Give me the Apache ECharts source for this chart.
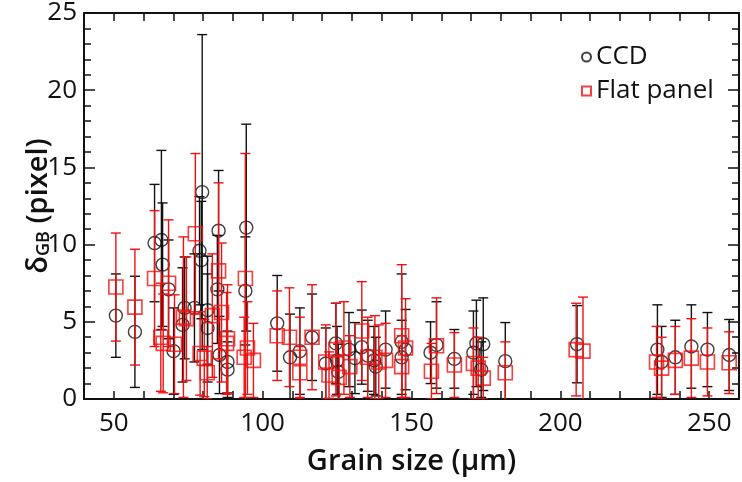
<!DOCTYPE html>
<html>
<head>
<meta charset="utf-8">
<script src="https://cdn.jsdelivr.net/npm/echarts@6/dist/echarts.min.js"></script>
<style>html,body{margin:0;padding:0;background:#fff;}#c{width:742px;height:482px;}</style>
</head>
<body>
<div id="c"></div>
<script>
// CCD data
const ccdX   = [50.7, 57.1, 63.7, 66.0, 66.4, 68.4, 70.1, 73.1, 73.8, 77.1, 78.8, 79.4, 79.7, 81.5, 81.5, 84.8, 85.2, 85.5, 88.2, 88.2, 94.5, 94.2, 104.9, 109.2, 112.5, 116.6, 121.2, 124.6, 125.0, 125.4, 129.0, 131.0, 133.3, 135.3, 137.4, 138.0, 141.3, 146.7, 148.0, 146.7, 156.4, 158.4, 164.4, 170.8, 171.8, 174.1, 173.4, 181.5, 205.6, 232.6, 234.0, 238.6, 244.0, 249.4, 256.7];
const ccdY   = [5.4, 4.35, 10.1, 10.3, 8.7, 7.1, 3.1, 4.8, 5.9, 5.9, 9.6, 9.0, 13.4, 5.75, 4.6, 7.1, 10.9, 2.85, 2.4, 1.9, 11.1, 7.0, 4.9, 2.7, 3.1, 4.0, 2.3, 3.6, 2.5, 1.75, 3.2, 2.65, 3.36, 2.8, 2.5, 2.1, 3.2, 3.7, 3.2, 2.7, 3.0, 3.5, 2.6, 3.0, 3.6, 3.55, 1.9, 2.45, 3.55, 3.2, 2.4, 2.7, 3.4, 3.2, 2.85];
const ccdErr = [2.7, 3.6, 3.8, 5.8, 4.0, 3.2, 2.8, 3.7, 3.3, 3.5, 3.5, 3.8, 10.2, 3.5, 3.5, 3.5, 3.9, 2.5, 2.0, 1.8, 6.7, 3.5, 3.1, 2.8, 2.8, 2.8, 2.3, 2.6, 2.2, 1.8, 2.4, 2.3, 2.4, 2.3, 2.2, 1.9, 2.5, 4.4, 2.6, 2.4, 2.0, 2.8, 1.9, 2.7, 2.8, 3.0, 1.8, 2.5, 2.5, 2.9, 2.3, 2.4, 2.7, 2.4, 2.3];
// Flat panel data
const flatX   = [50.7, 57.1, 63.7, 65.8, 66.6, 68.4, 70.4, 73.4, 74.4, 77.4, 79.0, 80.4, 81.4, 83.1, 85.2, 86.2, 88.2, 87.9, 93.8, 94.2, 94.9, 96.9, 104.9, 109.0, 112.5, 112.5, 116.6, 121.2, 122.3, 124.6, 125.7, 127.3, 129.3, 133.3, 135.3, 137.7, 139.0, 141.3, 146.7, 148.0, 146.7, 156.7, 158.4, 164.4, 170.8, 172.4, 174.1, 181.5, 205.3, 207.6, 232.3, 234.0, 238.6, 244.0, 249.4, 256.7];
const flatY   = [7.25, 5.95, 7.8, 4.0, 3.6, 7.5, 3.55, 5.3, 5.2, 10.7, 2.95, 2.65, 1.7, 5.4, 8.3, 5.6, 3.9, 3.6, 2.7, 7.8, 3.3, 2.5, 4.1, 4.0, 2.7, 1.7, 4.0, 2.4, 1.55, 3.2, 1.4, 3.3, 2.1, 4.4, 2.7, 2.7, 2.4, 2.5, 4.1, 3.3, 2.1, 1.8, 3.45, 2.2, 2.3, 2.0, 1.35, 1.7, 3.2, 3.1, 2.4, 2.0, 2.5, 2.65, 2.4, 2.35];
const flatErr = [3.5, 3.75, 4.4, 3.5, 3.2, 4.1, 3.2, 5.2, 4.0, 5.2, 2.7, 2.5, 1.7, 4.0, 5.7, 4.5, 3.5, 3.3, 2.6, 8.1, 3.0, 2.4, 2.9, 3.2, 2.6, 1.7, 3.4, 2.4, 1.5, 3.0, 1.4, 3.0, 2.0, 3.2, 2.6, 2.7, 2.4, 2.4, 4.6, 3.2, 2.0, 1.8, 3.1, 2.1, 2.3, 2.0, 1.35, 2.0, 3.0, 3.5, 2.3, 2.0, 2.2, 2.55, 2.2, 2.0];
// Tick labels
const xTickLabels = [50, 100, 150, 200, 250];
const yTickLabels = [0, 5, 10, 15, 20, 25];

const FONT = "'Open Sans', 'Noto Sans', sans-serif";
const BLACK = '#111';
const RED = '#f01010';

function errData(xs, ys, es) {
  return xs.map((x, i) => [x, ys[i] - es[i], ys[i] + es[i]]);
}
function ptData(xs, ys) {
  return xs.map((x, i) => [x, ys[i]]);
}
function errRender(color, capW, lw) {
  return function (params, api) {
    const x = api.value(0);
    const p1 = api.coord([x, api.value(1)]);
    const p2 = api.coord([x, api.value(2)]);
    const st = { stroke: color, lineWidth: lw };
    return {
      type: 'group',
      children: [
        { type: 'line', shape: { x1: p1[0], y1: p1[1], x2: p2[0], y2: p2[1] }, style: st },
        { type: 'line', shape: { x1: p1[0] - capW, y1: p1[1], x2: p1[0] + capW, y2: p1[1] }, style: st },
        { type: 'line', shape: { x1: p2[0] - capW, y1: p2[1], x2: p2[0] + capW, y2: p2[1] }, style: st }
      ]
    };
  };
}

const axisLineStyle = { color: BLACK, width: 2 };
const xBase = {
  type: 'value', min: 40, max: 260, interval: 10,
  splitLine: { show: false },
  axisLine: { show: true, onZero: false, lineStyle: axisLineStyle },
  axisTick: { show: true, inside: true, length: 8, lineStyle: { color: BLACK, width: 1.5 } }
};
const yBase = {
  type: 'value', min: 0, max: 25, interval: 5,
  splitLine: { show: false },
  axisLine: { show: true, onZero: false, lineStyle: axisLineStyle },
  axisTick: { show: true, inside: true, length: 11, lineStyle: { color: BLACK, width: 1.5 } },
  minorTick: { show: true, splitNumber: 5, length: 7, lineStyle: { color: BLACK, width: 1.5 } },
  minorSplitLine: { show: false }
};

const chart = echarts.init(document.getElementById('c'), null, { renderer: 'canvas' });
chart.setOption({
  animation: false,
  backgroundColor: '#fff',
  grid: { left: 84, right: -1, top: 12, bottom: 83, containLabel: false },
  legend: {
    orient: 'vertical', left: 576, top: 39, itemWidth: 9, itemHeight: 9, itemGap: 8,
    textStyle: { fontFamily: FONT, fontSize: 26, color: BLACK, padding: [0, 0, 0, 0] },
    data: ['CCD', 'Flat panel']
  },
  xAxis: [
    Object.assign({}, xBase, {
      position: 'bottom',
      name: 'Grain size (μm)', nameLocation: 'middle', nameGap: 48, nameMoveOverlap: false,
      nameTextStyle: { fontFamily: FONT, fontSize: 29, fontWeight: 600, color: BLACK },
      axisLabel: {
        show: true, margin: 12, fontFamily: FONT, fontSize: 26, color: BLACK,
        formatter: v => (xTickLabels.indexOf(v) >= 0 ? String(v) : '')
      }
    }),
    Object.assign({}, xBase, { position: 'top', axisLabel: { show: false } })
  ],
  yAxis: [
    Object.assign({}, yBase, {
      position: 'left',
      name: '{a|δ}{b|GB}{a| (pixel)}', nameLocation: 'middle', nameGap: 31, nameRotate: 90, nameMoveOverlap: false,
      nameTextStyle: {
        rich: {
          a: { fontFamily: FONT, fontSize: 29, fontWeight: 600, color: BLACK },
          b: { fontFamily: FONT, fontSize: 18, fontWeight: 600, color: BLACK, padding: [10, 0, 0, 0] }
        }
      },
      axisLabel: {
        show: true, margin: 7, fontFamily: FONT, fontSize: 26, color: BLACK,
        formatter: v => (yTickLabels.indexOf(v) >= 0 ? String(v) : '')
      }
    }),
    Object.assign({}, yBase, { position: 'right', axisLabel: { show: false } })
  ],
  series: [
    {
      name: 'CCD err', type: 'custom', xAxisIndex: 0, yAxisIndex: 0, clip: true,
      renderItem: errRender(BLACK, 5, 1.4), data: errData(ccdX, ccdY, ccdErr), z: 2
    },
    {
      name: 'CCD', type: 'scatter', xAxisIndex: 0, yAxisIndex: 0, symbol: 'circle', symbolSize: 13,
      itemStyle: { color: 'rgba(0,0,0,0)', borderColor: BLACK, borderWidth: 1.4 },
      data: ptData(ccdX, ccdY), z: 3
    },
    {
      name: 'Flat panel err', type: 'custom', xAxisIndex: 0, yAxisIndex: 0, clip: true,
      renderItem: errRender(RED, 5, 1.4), data: errData(flatX, flatY, flatErr), z: 4
    },
    {
      name: 'Flat panel', type: 'scatter', xAxisIndex: 0, yAxisIndex: 0, symbol: 'rect', symbolSize: 14,
      itemStyle: { color: 'rgba(0,0,0,0)', borderColor: RED, borderWidth: 1.6 },
      data: ptData(flatX, flatY), z: 5
    }
  ]
});
</script>
</body>
</html>
